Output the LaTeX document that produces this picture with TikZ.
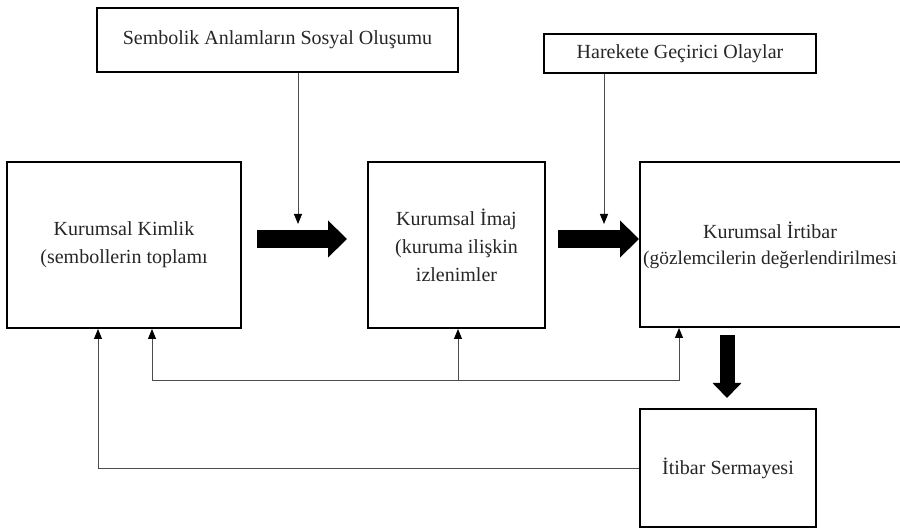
\documentclass[tikz,border=0pt]{standalone}
\usepackage{fontspec}
\setmainfont{Liberation Serif}
\usetikzlibrary{arrows.meta}
\begin{document}
\begin{tikzpicture}[x=1pt,y=-1pt,
  box/.style={draw=black,line width=2pt,fill=white,align=center,inner sep=0pt,
    font=\fontsize{20}{28}\selectfont,text=black!85},
  thinline/.style={draw=black!70,line width=1pt},
  thinarr/.style={thinline,-{Triangle[length=10pt,width=8pt,fill=black,color=black]}},
  fatarr/.style={draw=black,line width=18pt,-{Triangle[length=19pt,width=36pt]}}]
\useasboundingbox (0,0) rectangle (900,529);
\clip (0,0) rectangle (900,529);
% boxes
\node[box,minimum width=361pt,minimum height=64pt] (semb) at (277.5,40) {Sembolik Anlamların Sosyal Oluşumu};
\node[box,minimum width=272pt,minimum height=39pt] (hare) at (680,53.5) {Harekete Geçirici Olaylar};
\node[box,minimum width=234pt,minimum height=166pt] (kim) at (124,245) {Kurumsal Kimlik\\(sembollerin toplamı};
\node[box,minimum width=177pt,minimum height=166pt] (imaj) at (456.5,245) {Kurumsal İmaj\\(kuruma ilişkin\\izlenimler};
\node[box,minimum width=264pt,minimum height=165pt] (irt) at (772,244.5) {};
\node[font=\fontsize{20}{26}\selectfont,text=black!85,align=center,inner sep=0pt] (irtt) at (770,245) {Kurumsal İrtibar\\{\fontsize{19.4}{26}\selectfont(gözlemcilerin değerlendirilmesi}};
\node[box,minimum width=176pt,minimum height=118pt] (itb) at (728,468) {İtibar Sermayesi};
% coordinates
\coordinate (a1s) at (257,239);
\coordinate (a1e) at (347,239);
\coordinate (a2s) at (558,239);
\coordinate (d1) at (298,224);
\coordinate (d2) at (604,224);
\coordinate (a3s) at (727,335);
\coordinate (a3e) at (727,398);
\coordinate (f1) at (152,381);
\coordinate (f2) at (458,381);
\coordinate (f3) at (679,381);
\coordinate (g1) at (98,329);
% thin arrows from top
\draw[thinarr] (semb.south -| d1) -- (d1);
\draw[thinarr] (hare.south -| d2) -- (d2);
% fat arrows
\draw[fatarr] (a1s) -- (a1e);
\draw[fatarr] (a2s) -- (irt.west |- a2s);
\draw[draw=black,line width=15pt,-{Triangle[length=15pt,width=28pt]}] (a3s) -- (a3e);
% feedback
\draw[thinline] (f1) -- (f3);
\draw[thinarr] (f1) -- (f1 |- kim.south);
\draw[thinarr] (f2) -- (f2 |- imaj.south);
\draw[thinarr] (f3) -- (f3 |- irt.south);
\draw[thinarr] (itb.west) -| (g1);
\end{tikzpicture}
\end{document}
